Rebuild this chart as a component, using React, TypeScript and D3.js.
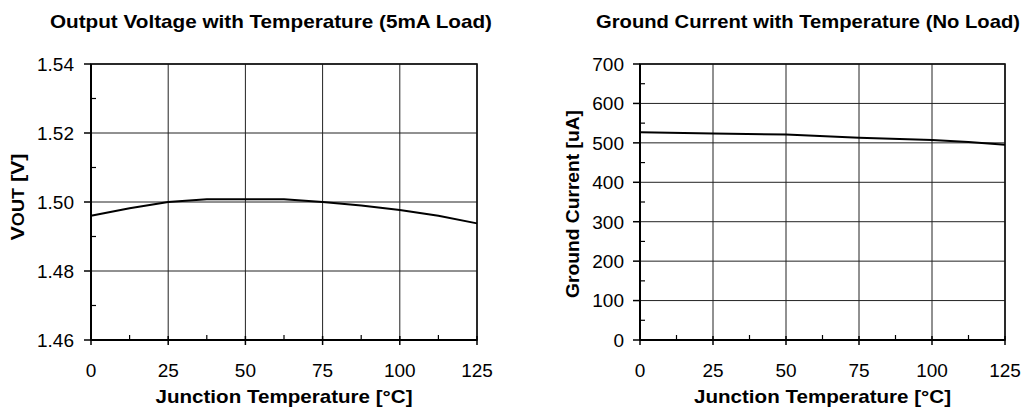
import React from "react";
import * as d3 from "d3";

const tempTicks = [0, 25, 50, 75, 100, 125];
const tempMinor = [12.5, 37.5, 62.5, 87.5, 112.5];

const voutTemp = [0, 12.5, 25, 37.5, 50, 62.5, 75, 87.5, 100, 112.5, 125];
const voutValues = [1.496, 1.4982, 1.5, 1.5008, 1.5008, 1.5008, 1.5, 1.499, 1.4977, 1.496, 1.4938];
const voutTicks = [1.46, 1.48, 1.5, 1.52, 1.54];
const voutMinor = [1.47, 1.49, 1.51, 1.53];

const gndTemp = [0, 25, 50, 75, 100, 112.5, 125];
const gndValues = [527, 524, 521, 513, 507, 502, 495];
const gndTicks = [0, 100, 200, 300, 400, 500, 600, 700];
const gndMinor = [50, 150, 250, 350, 450, 550, 650];

const FONT = "'Liberation Sans', Arial, Helvetica, sans-serif";

type PanelProps = {
  x0: number; x1: number; y0: number; y1: number;
  yDomain: [number, number];
  yTicks: number[]; yMinor: number[];
  yFmt: (v: number) => string;
  xs: number[]; ys: number[];
  title: string; titleX: number; titleLen: number;
  yLabel: React.ReactNode; yLabelX: number; yLabelY: number; yLabelLen: number;
  yTickEnd: number;
};

function Panel(p: PanelProps) {
  const x = d3.scaleLinear().domain([0, 125]).range([p.x0, p.x1]);
  const y = d3.scaleLinear().domain(p.yDomain).range([p.y1, p.y0]);
  const line = d3.line<number>().x((_, i) => x(p.xs[i])).y((d) => y(d));
  const cx = (p.x0 + p.x1) / 2;
  return (
    <g>
      <text x={p.titleX} y={28} textAnchor="middle" fontFamily={FONT} fontWeight="bold" fontSize={19}
        textLength={p.titleLen} lengthAdjust="spacingAndGlyphs">{p.title}</text>
      {p.yTicks.map((t) => (
        <line key={"gy" + t} x1={p.x0} x2={p.x1} y1={y(t)} y2={y(t)} stroke="#222" strokeWidth={1} />
      ))}
      {tempTicks.map((t) => (
        <line key={"gx" + t} x1={x(t)} x2={x(t)} y1={p.y0} y2={p.y1} stroke="#222" strokeWidth={1} />
      ))}
      <rect x={p.x0} y={p.y0} width={p.x1 - p.x0} height={p.y1 - p.y0} fill="none" stroke="#111" strokeWidth={1.6} />
      <line x1={p.x0} x2={p.x0} y1={p.y0} y2={p.y1} stroke="#000" strokeWidth={2} />
      <line x1={p.x0} x2={p.x1} y1={p.y1} y2={p.y1} stroke="#000" strokeWidth={2} />
      {p.yTicks.map((t) => (
        <line key={"ty" + t} x1={p.x0 - 7} x2={p.x0} y1={y(t)} y2={y(t)} stroke="#000" strokeWidth={1.5} />
      ))}
      {p.yMinor.map((t) => (
        <line key={"my" + t} x1={p.x0} x2={p.x0 + 5} y1={y(t)} y2={y(t)} stroke="#000" strokeWidth={1.2} />
      ))}
      {p.yTicks.map((t) => (
        <text key={"ly" + t} x={p.yTickEnd} y={y(t)} dy="0.36em" textAnchor="end" fontFamily={FONT} fontSize={19}>
          {p.yFmt(t)}
        </text>
      ))}
      {tempTicks.map((t) => (
        <line key={"tx" + t} x1={x(t)} x2={x(t)} y1={p.y1 - 4} y2={p.y1 + 5} stroke="#000" strokeWidth={1.5} />
      ))}
      {tempMinor.map((t) => (
        <line key={"mx" + t} x1={x(t)} x2={x(t)} y1={p.y1 - 5} y2={p.y1} stroke="#000" strokeWidth={1.2} />
      ))}
      {tempTicks.map((t) => (
        <text key={"lx" + t} x={x(t)} y={377} textAnchor="middle" fontFamily={FONT} fontSize={19}>
          {t}
        </text>
      ))}
      <text x={cx} y={403} textAnchor="middle" fontFamily={FONT} fontWeight="bold" fontSize={19}
        textLength={257} lengthAdjust="spacingAndGlyphs">Junction Temperature [°C]</text>
      <text transform={`translate(${p.yLabelX},${p.yLabelY}) rotate(-90)`} textAnchor="middle" fontFamily={FONT}
        fontWeight="bold" fontSize={19} textLength={p.yLabelLen} lengthAdjust="spacingAndGlyphs">{p.yLabel}</text>
      <path d={line(p.ys) || ""} fill="none" stroke="#000" strokeWidth={2} />
    </g>
  );
}

export default function App() {
  return (
    <svg width={1022} height={408} style={{ position: "absolute", left: 0, top: 0, background: "#fff" }}>
      <rect width={1022} height={408} fill="#fff" />
      <Panel x0={91} x1={477} y0={64} y1={340} yDomain={[1.46, 1.54]} yTicks={voutTicks} yMinor={voutMinor}
        yFmt={(v) => v.toFixed(2)} xs={voutTemp} ys={voutValues}
        title="Output Voltage with Temperature (5mA Load)" titleX={271} titleLen={442}
        yLabel={<><tspan>V</tspan><tspan fontSize={16}>OUT</tspan><tspan> [V]</tspan></>}
        yLabelX={24} yLabelY={197} yLabelLen={87} yTickEnd={74} />
      <Panel x0={640} x1={1005} y0={64} y1={340} yDomain={[0, 700]} yTicks={gndTicks} yMinor={gndMinor}
        yFmt={(v) => String(v)} xs={gndTemp} ys={gndValues}
        title="Ground Current with Temperature (No Load)" titleX={808} titleLen={424}
        yLabel="Ground Current [uA]" yLabelX={579} yLabelY={204} yLabelLen={188} yTickEnd={624} />
    </svg>
  );
}
